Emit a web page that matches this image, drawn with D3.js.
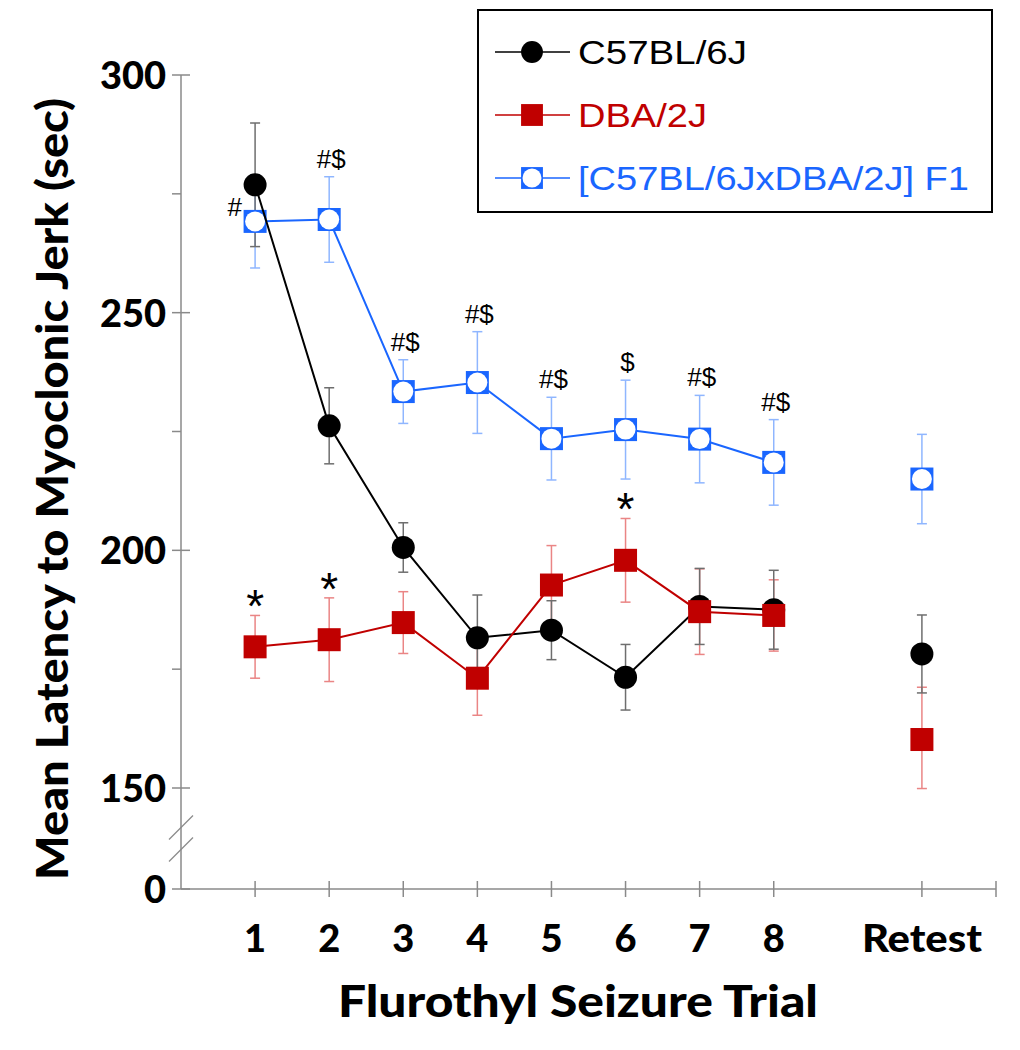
<!DOCTYPE html>
<html><head><meta charset="utf-8">
<script src="https://cdn.jsdelivr.net/npm/d3@7"></script>
<style>body{margin:0;background:#fff}svg{display:block}</style>
</head><body>
<svg id="chart" width="1020" height="1050"></svg>
<script>
// ---- data ----
const trials = [1, 2, 3, 4, 5, 6, 7, 8];
const retestX = 10;
const xTickValues = [1, 2, 3, 4, 5, 6, 7, 8, 10, 11];
const xTickLabels = ["1", "2", "3", "4", "5", "6", "7", "8", "Retest", ""];
const yMajorTicks = [0, 150, 200, 250, 300];
const yMinorTicks = [175, 225, 275];

const seriesNames = ["C57BL/6J", "DBA/2J", "[C57BL/6JxDBA/2J] F1"];
const c57Mean = [276.9, 226.2, 200.6, 181.6, 183.2, 173.3, 188.2, 187.5];
const c57Sem  = [13.0, 8.0, 5.2, 9.0, 6.2, 6.9, 8.0, 8.3];
const c57Retest = [178.2, 8.2];
const dbaMean = [179.7, 181.2, 184.8, 173.1, 192.7, 197.9, 187.1, 186.3];
const dbaSem  = [6.6, 8.8, 6.5, 7.8, 8.3, 8.8, 9.0, 7.5];
const dbaRetest = [160.2, 11.0];
const f1Mean = [269.2, 269.6, 233.4, 235.3, 223.5, 225.4, 223.4, 218.5];
const f1Sem  = [9.8, 9.0, 6.7, 10.7, 8.7, 10.4, 9.2, 9.0];
const f1Retest = [215.0, 9.4];

// significance annotations: [series index, trial, label]
const annotations = [
  [2, 1, "#"], [2, 2, "#$"], [2, 3, "#$"], [2, 4, "#$"], [2, 5, "#$"],
  [2, 6, "$"], [2, 7, "#$"], [2, 8, "#$"],
  [1, 1, "*"], [1, 2, "*"], [1, 6, "*"]
];

// ---- styles ----
const colors = ["#000000", "#c00000", "#1a66ff"];
const errColors = ["#6e6e6e", "#ea8585", "#8fb6ff"];

const svg = d3.select("#chart");
const x = d3.scaleLinear().domain([0, 11]).range([181, 996]);
const y = d3.scaleLinear().domain([0, 150, 300]).range([889, 788, 75]);

const series = [
  {mean: c57Mean, sem: c57Sem, retest: c57Retest},
  {mean: dbaMean, sem: dbaSem, retest: dbaRetest},
  {mean: f1Mean, sem: f1Sem, retest: f1Retest}
].map((s, i) => {
  const pts = trials.map((t, j) => ({x: t, v: s.mean[j], e: s.sem[j]}));
  return {i, pts, retest: {x: retestX, v: s.retest[0], e: s.retest[1]}};
});

// ---- axes ----
const axisColor = "#8a8a8a";
const ga = svg.append("g").attr("stroke", axisColor).attr("stroke-width", 1.5);
ga.append("line").attr("x1", x(0)).attr("x2", x(0)).attr("y1", y(300)).attr("y2", y(0));
ga.append("line").attr("x1", x(0)).attr("x2", x(11)).attr("y1", y(0)).attr("y2", y(0));
yMajorTicks.forEach(v => ga.append("line").attr("x1", x(0) - 9).attr("x2", x(0) + 9).attr("y1", y(v)).attr("y2", y(v)));
yMinorTicks.forEach(v => ga.append("line").attr("x1", x(0) - 9).attr("x2", x(0)).attr("y1", y(v)).attr("y2", y(v)));
xTickValues.forEach(v => ga.append("line").attr("x1", x(v)).attr("x2", x(v)).attr("y1", y(0) - 8).attr("y2", y(0) + 8));
// axis break marks
const bm = (y(150) + y(0)) / 2;
[-11, 11].forEach(d => ga.append("line")
  .attr("x1", x(0) - 12).attr("y1", bm + d + 12).attr("x2", x(0) + 12).attr("y2", bm + d - 12)
  .attr("stroke-width", 1.2));

const tickFont = "Lato, 'Open Sans', sans-serif";
svg.append("g").selectAll("text").data(yMajorTicks).join("text")
  .attr("x", 166).attr("y", d => y(d) + 14)
  .attr("text-anchor", "end").attr("font-family", tickFont).attr("font-weight", 900)
  .attr("font-size", 38).text(d => d);
svg.append("g").selectAll("text").data(xTickValues).join("text")
  .attr("x", d => x(d)).attr("y", 952)
  .attr("text-anchor", "middle").attr("font-family", tickFont).attr("font-weight", 900)
  .attr("font-size", 38).text((d, i) => xTickLabels[i])
  .each(function(d, i) { if (xTickLabels[i] === "Retest") d3.select(this).attr("textLength", 120).attr("lengthAdjust", "spacingAndGlyphs"); });

svg.append("text").attr("x", 578).attr("y", 1017).attr("text-anchor", "middle")
  .attr("font-family", tickFont).attr("font-weight", 900).attr("font-size", 44)
  .attr("textLength", 480).attr("lengthAdjust", "spacingAndGlyphs")
  .text("Flurothyl Seizure Trial");
svg.append("text").attr("transform", "translate(68,489) rotate(-90)").attr("text-anchor", "middle")
  .attr("font-family", tickFont).attr("font-weight", 900).attr("font-size", 44)
  .attr("textLength", 782).attr("lengthAdjust", "spacingAndGlyphs")
  .text("Mean Latency to Myoclonic Jerk (sec)");

// ---- error bars ----
function errBar(g, p) {
  const xx = x(p.x);
  g.append("line").attr("x1", xx).attr("x2", xx).attr("y1", y(p.v + p.e)).attr("y2", y(p.v - p.e));
  [p.v + p.e, p.v - p.e].forEach(v => g.append("line").attr("x1", xx - 5).attr("x2", xx + 5).attr("y1", y(v)).attr("y2", y(v)));
}
[2, 1, 0].forEach(i => {
  const g = svg.append("g").attr("stroke", errColors[i]).attr("stroke-width", 1.5);
  series[i].pts.concat([series[i].retest]).forEach(p => errBar(g, p));
});

// ---- markers ----
function marker(g, i, cx, cy, scale) {
  const s = scale || 1;
  if (i === 0) {
    g.append("circle").attr("cx", cx).attr("cy", cy).attr("r", 11.5 * s).attr("fill", colors[0]);
  } else if (i === 1) {
    g.append("rect").attr("x", cx - 11.5 * s).attr("y", cy - 11.5 * s).attr("width", 23 * s).attr("height", 23 * s).attr("fill", colors[1]);
  } else {
    g.append("rect").attr("x", cx - 11.5 * s).attr("y", cy - 11.5 * s).attr("width", 23 * s).attr("height", 23 * s).attr("fill", colors[2]);
    g.append("circle").attr("cx", cx).attr("cy", cy).attr("r", 10 * s).attr("fill", "#fff");
  }
}
const line = d3.line().x(d => x(d.x)).y(d => y(d.v));
[2, 0, 1].forEach(i => {
  const g = svg.append("g");
  g.append("path").attr("d", line(series[i].pts)).attr("fill", "none")
    .attr("stroke", colors[i]).attr("stroke-width", 2);
  series[i].pts.concat([series[i].retest]).forEach(p => marker(g, i, x(p.x), y(p.v)));
});

// ---- annotations ----
annotations.forEach(([si, t, lab]) => {
  const p = series[si].pts[t - 1];
  const top = y(p.v + p.e);
  const t0 = svg.append("text").attr("font-family", "'Liberation Sans', Arial, sans-serif").attr("fill", "#000");
  if (lab === "*") {
    t0.attr("x", x(t)).attr("y", top - 18 + 25).attr("text-anchor", "middle").attr("font-size", 46).text(lab);
  } else if (si === 2 && t === 1) {
    t0.attr("x", x(t) - 13).attr("y", y(p.v) - 5).attr("text-anchor", "end").attr("font-size", 26).text(lab);
  } else {
    t0.attr("x", x(t) + 2).attr("y", top - 18 + 9).attr("text-anchor", "middle").attr("font-size", 26).text(lab);
  }
});

// ---- legend ----
const legendWidths = [169, 129, 391];
const lg = svg.append("g");
lg.append("rect").attr("x", 478).attr("y", 10).attr("width", 514).attr("height", 202)
  .attr("fill", "#fff").attr("stroke", "#000").attr("stroke-width", 2);
seriesNames.forEach((name, i) => {
  const yy = 52 + i * 63;
  lg.append("line").attr("x1", 495).attr("x2", 570).attr("y1", yy).attr("y2", yy).attr("stroke", colors[i]).attr("stroke-width", 1.5);
  marker(lg, i, 532, yy, 0.95);
  lg.append("text").attr("x", 578).attr("y", yy + 12).attr("font-family", "'Liberation Sans', Arial, sans-serif")
    .attr("font-size", 33).attr("fill", colors[i])
    .attr("textLength", legendWidths[i]).attr("lengthAdjust", "spacingAndGlyphs").text(name);
});
</script>
</body></html>
